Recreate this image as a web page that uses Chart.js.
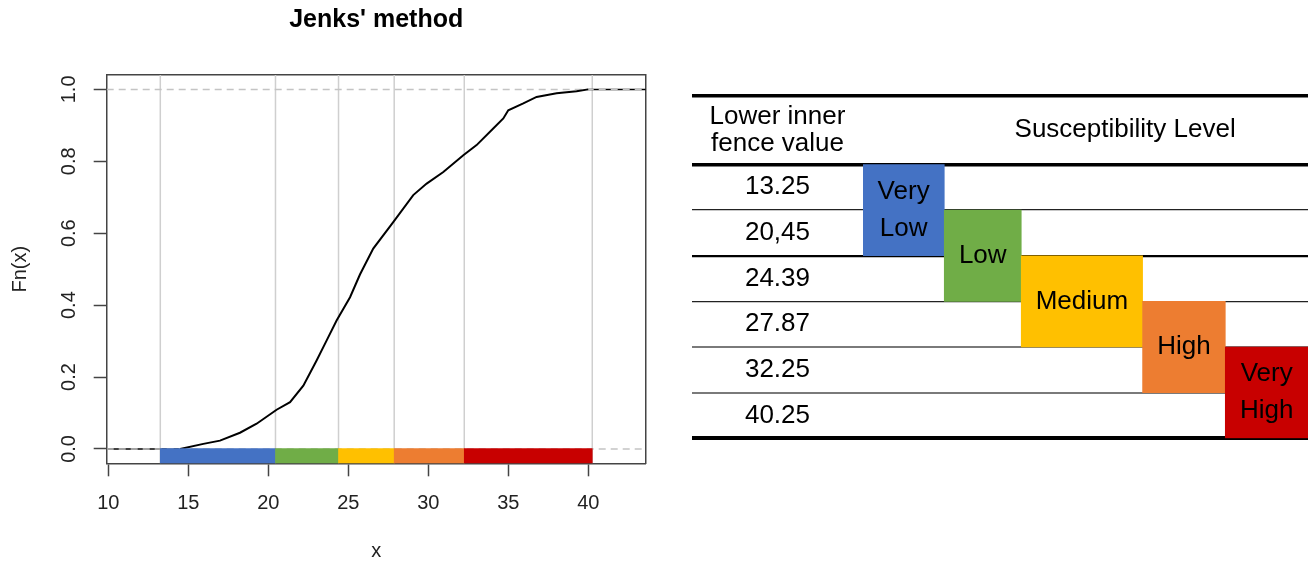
<!DOCTYPE html>
<html><head><meta charset="utf-8">
<script src="https://cdn.jsdelivr.net/npm/chart.js@4"></script>
<style>
html,body{margin:0;padding:0;background:#fff;width:1309px;height:565px;overflow:hidden;}
#c1{position:absolute;left:0;top:0;}
#c2{position:absolute;left:690px;top:90px;}
</style></head><body>
<canvas id="c1" width="670" height="565"></canvas>
<canvas id="c2" width="619" height="360"></canvas>
<script>
// ---------- data ----------
const chartTitle = "Jenks' method";
const xTitle = 'x';
const yTitle = 'Fn(x)';
const xTickValues = [10, 15, 20, 25, 30, 35, 40];
const yTickValues = [0, 0.2, 0.4, 0.6, 0.8, 1.0];
const breaks = [13.25, 20.45, 24.39, 27.87, 32.25, 40.25];
const levels = ['Very Low', 'Low', 'Medium', 'High', 'Very High'];
const levelColors = ['#4472C4', '#70AD47', '#FFC000', '#ED7D31', '#C80000'];
const fenceValues = ['13.25', '20,45', '24.39', '27.87', '32.25', '40.25'];
const levelRowSpans = [[0, 2], [1, 3], [2, 4], [3, 5], [4, 6]];
const headerValue = ['Lower inner', 'fence value'];
const headerLevel = 'Susceptibility Level';
const ecdfX = [14.49, 15.94, 16.98, 18.23, 19.27, 20.52, 21.36, 22.19, 23.02, 23.65, 24.27, 25.11, 25.73, 26.56, 27.81, 29.06, 29.90, 30.94, 32.19, 33.02, 34.06, 34.69, 35.00, 35.94, 36.77, 38.02, 39.27, 40.00];
const ecdfY = [0.000, 0.014, 0.023, 0.045, 0.070, 0.109, 0.130, 0.176, 0.246, 0.302, 0.357, 0.422, 0.485, 0.557, 0.631, 0.706, 0.738, 0.770, 0.817, 0.845, 0.891, 0.919, 0.942, 0.961, 0.979, 0.989, 0.995, 1.000];

// ---------- setup ----------
const FONT_FAMILY = '"Liberation Sans", Arial, sans-serif';
Chart.defaults.font.family = FONT_FAMILY;
Chart.defaults.animation = false;

const X_MIN = 9.9, X_MAX = 43.59, Y_MIN = -0.04, Y_MAX = 1.04;
const axisColor = '#444';

const verticalPts = [];
breaks.forEach(b => { verticalPts.push({x: b, y: Y_MIN}, {x: b, y: Y_MAX}, {x: b, y: null}); });

new Chart(document.getElementById('c1'), {
  type: 'line',
  data: {
    datasets: [
      { type: 'bar', indexAxis: 'y', xAxisID: 'x', yAxisID: 'y',
        data: levels.map((l, i) => ({x: [breaks[i], breaks[i + 1]], y: Y_MIN / 2})),
        backgroundColor: levelColors, borderWidth: 0, barThickness: 15 },
      { data: ecdfX.map((x, i) => ({x, y: ecdfY[i]})), borderColor: '#000', borderWidth: 2,
        pointRadius: 0, tension: 0, fill: false },
      { data: [{x: X_MIN, y: 0}, {x: X_MAX, y: 0}], borderColor: '#c4c4c4', borderDash: [7, 5],
        borderWidth: 1.5, pointRadius: 0 },
      { data: [{x: X_MIN, y: 1}, {x: X_MAX, y: 1}], borderColor: '#c4c4c4', borderDash: [7, 5],
        borderWidth: 1.5, pointRadius: 0 },
      { data: [{x: X_MIN, y: 0}, {x: ecdfX[0], y: 0}], borderColor: '#000', borderWidth: 1.5, pointRadius: 0 },
      { data: [{x: ecdfX[ecdfX.length - 1], y: 1}, {x: X_MAX, y: 1}], borderColor: '#000', borderWidth: 1.5, pointRadius: 0 },
      { data: verticalPts, borderColor: '#cfcfcf', borderWidth: 1.5, pointRadius: 0, spanGaps: false }
    ]
  },
  options: {
    responsive: false,
    layout: { padding: { left: 0, right: 24.3, top: 0, bottom: 0 } },
    plugins: { legend: { display: false }, tooltip: { enabled: false }, title: { display: false } },
    scales: {
      x: { type: 'linear', min: X_MIN, max: X_MAX, offset: false,
        afterBuildTicks: s => { s.ticks = xTickValues.map(v => ({value: v})); },
        afterFit: s => { s.height = 101.7; },
        ticks: { font: { size: 20 }, color: '#222', padding: 15, autoSkip: false, maxRotation: 0,
                 callback: v => String(v) },
        grid: { offset: false, drawOnChartArea: false, drawTicks: true, tickLength: 13, tickColor: axisColor, tickWidth: 1.5 },
        border: { display: true, color: axisColor, width: 1.5 },
        title: { display: true, text: xTitle, font: { size: 20 }, color: '#222', padding: { top: 0, bottom: 2 } } },
      y: { type: 'linear', min: Y_MIN, max: Y_MAX, offset: false,
        afterBuildTicks: s => { s.ticks = yTickValues.map(v => ({value: v})); },
        afterFit: s => { s.width = 106.7; },
        ticks: { font: { size: 20 }, color: '#222', padding: 10, autoSkip: false,
                 minRotation: 90, maxRotation: 90, crossAlign: 'center',
                 callback: v => v.toFixed(1) },
        grid: { offset: false, drawOnChartArea: false, drawTicks: true, tickLength: 13, tickColor: axisColor, tickWidth: 1.5 },
        border: { display: true, color: axisColor, width: 1.5 },
        title: { display: true, text: yTitle, font: { size: 20 }, color: '#222', padding: { top: 8, bottom: 0 } } },
      // top frame edge; carries the main title centred over the plot box
      x2: { type: 'linear', position: 'top', min: X_MIN, max: X_MAX,
        afterFit: s => { s.height = 75; },
        ticks: { display: false }, grid: { display: false, drawTicks: false },
        border: { display: true, color: axisColor, width: 1.5 },
        title: { display: true, text: chartTitle, color: '#000', font: { size: 25, weight: 'bold', lineHeight: 1.2 },
                 padding: { top: 5.5, bottom: 39.5 } } },
      y2: { type: 'linear', position: 'right', min: Y_MIN, max: Y_MAX,
        ticks: { display: false }, grid: { display: false, drawTicks: false },
        border: { display: true, color: axisColor, width: 1.5 } }
    }
  }
});

// ---------- table chart ----------
const TABLE_FONT = '26px ' + FONT_FAMILY;
const CELL_PAD = 30;   // horizontal cell padding, like an auto-sized table column
// column widths follow the widest line of each level label (auto table layout)
const measureCtx = document.createElement('canvas').getContext('2d');
measureCtx.font = TABLE_FONT;
const colEdges = [0];
levels.forEach(l => {
  const w = Math.max(...l.split(' ').map(t => measureCtx.measureText(t).width)) + CELL_PAD;
  colEdges.push(colEdges[colEdges.length - 1] + w);
});

function ruleColor(v) {
  if (v === -1.5 || v === 0 || v === 6 || v === 2) return '#000';
  if (v === 1 || v === 3) return '#222';
  if (v === 4 || v === 5) return '#7a7a7a';
  return 'rgba(0,0,0,0)';
}
function ruleWidth(v) {
  if (v === -1.5 || v === 0) return 3.5;
  if (v === 6) return 4;
  if (v === 2) return 2.2;
  if (v === 4 || v === 5) return 2;
  if (v === 1 || v === 3) return 1.3;
  return 0;
}

const tableTextPlugin = {
  id: 'tableText',
  afterDatasetsDraw(chart) {
    const ctx = chart.ctx, meta = chart.getDatasetMeta(0), ca = chart.chartArea;
    ctx.save();
    ctx.font = TABLE_FONT;
    ctx.fillStyle = '#000';
    ctx.textAlign = 'center';
    ctx.textBaseline = 'middle';
    meta.data.forEach((bar, i) => {
      const lines = levels[i].split(' ');
      const cx = (bar.x + bar.base) / 2, cy = bar.y;
      const lh = 37;
      lines.forEach((ln, j) => ctx.fillText(ln, cx, cy + (j - (lines.length - 1) / 2) * lh));
    });
    ctx.fillText(headerLevel, ca.left + 0.589 * (ca.right - ca.left), chart.scales.y.getPixelForValue(-0.75));
    ctx.restore();
  }
};

new Chart(document.getElementById('c2'), {
  type: 'bar',
  data: {
    datasets: [{
      data: levels.map((l, i) => ({ y: (levelRowSpans[i][0] + levelRowSpans[i][1]) / 2, x: [colEdges[i], colEdges[i + 1]] })),
      backgroundColor: levelColors, borderWidth: 0,
      barThickness: 'flex', categoryPercentage: 1, barPercentage: 2 }]
  },
  options: {
    indexAxis: 'y',
    responsive: false,
    layout: { padding: { left: 2, right: 1, top: 6, bottom: 11.7 } },
    plugins: { legend: { display: false }, tooltip: { enabled: false } },
    scales: {
      x: { type: 'linear', display: false, min: 0, max: colEdges[colEdges.length - 1], offset: false },
      y: { type: 'linear', min: -1.5, max: 6, reverse: true, position: 'left', offset: false,
        afterBuildTicks: s => {
          const t = [{value: -1.5}, {value: -0.75}];
          for (let i = 0; i <= 6; i++) { t.push({value: i}); if (i < 6) t.push({value: i + 0.5}); }
          s.ticks = t;
        },
        afterFit: s => { s.width = 171; },
        ticks: { autoSkip: false, crossAlign: 'center', padding: -153.4, color: '#000',
                 font: { size: 26, lineHeight: 1.05 },
                 callback: v => (v === -0.75 ? headerValue : (Number.isInteger(v) || v === -1.5) ? '' : fenceValues[Math.floor(v)]) },
        grid: { offset: false, drawOnChartArea: true, drawTicks: true, tickLength: 171,
                color: c => ruleColor(c.tick.value), lineWidth: c => ruleWidth(c.tick.value) },
        border: { display: false } }
    }
  },
  plugins: [tableTextPlugin]
});
</script>
</body></html>
